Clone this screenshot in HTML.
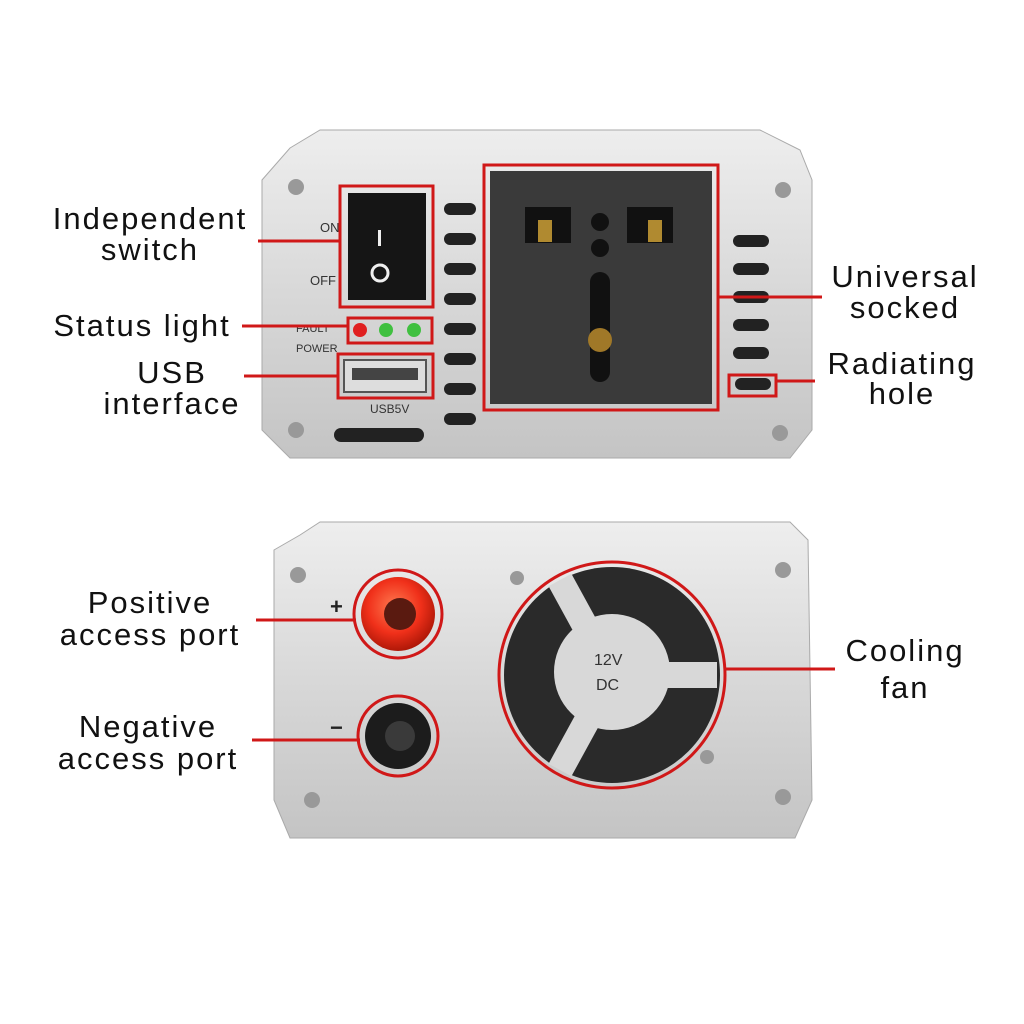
<!DOCTYPE html>
<html><head><meta charset="utf-8"><style>
html,body{margin:0;padding:0;background:#fff;}
svg{display:block;}
text{font-family:"Liberation Sans",sans-serif;}
</style></head><body>
<svg width="1024" height="1024" viewBox="0 0 1024 1024" xmlns="http://www.w3.org/2000/svg">
<defs>
<linearGradient id="sil" x1="0" y1="0" x2="0" y2="1">
<stop offset="0" stop-color="#eeeeee"/><stop offset="0.5" stop-color="#d8d8d8"/><stop offset="1" stop-color="#c4c4c4"/>
</linearGradient>
<radialGradient id="red" cx="0.45" cy="0.4" r="0.6">
<stop offset="0" stop-color="#ff7a50"/><stop offset="0.6" stop-color="#f0301a"/><stop offset="1" stop-color="#b01808"/>
</radialGradient>
</defs>
<path d="M290 148 L320 130 L760 130 L800 150 L812 180 L812 430 L790 458 L290 458 L262 430 L262 180 Z" fill="url(#sil)" stroke="#aaa"/>
<circle cx="296" cy="187" r="8" fill="#999"/><circle cx="783" cy="190" r="8" fill="#999"/>
<circle cx="296" cy="430" r="8" fill="#999"/><circle cx="780" cy="433" r="8" fill="#999"/>
<g fill="#222">
<rect x="444" y="203" width="32" height="12" rx="6"/><rect x="444" y="233" width="32" height="12" rx="6"/>
<rect x="444" y="263" width="32" height="12" rx="6"/><rect x="444" y="293" width="32" height="12" rx="6"/>
<rect x="444" y="323" width="32" height="12" rx="6"/><rect x="444" y="353" width="32" height="12" rx="6"/>
<rect x="444" y="383" width="32" height="12" rx="6"/><rect x="444" y="413" width="32" height="12" rx="6"/>
<rect x="733" y="235" width="36" height="12" rx="6"/><rect x="733" y="263" width="36" height="12" rx="6"/>
<rect x="733" y="291" width="36" height="12" rx="6"/><rect x="733" y="319" width="36" height="12" rx="6"/>
<rect x="733" y="347" width="36" height="12" rx="6"/><rect x="735" y="378" width="36" height="12" rx="6"/>
<rect x="334" y="428" width="90" height="14" rx="7"/>
</g>
<rect x="340" y="186" width="93" height="121" fill="none" stroke="#d01818" stroke-width="3"/>
<rect x="348" y="193" width="78" height="107" fill="#151515"/>
<rect x="378" y="230" width="3" height="16" fill="#eee"/>
<circle cx="380" cy="273" r="8" fill="none" stroke="#eee" stroke-width="3"/>
<text x="320" y="232" font-size="13" fill="#333">ON</text>
<text x="310" y="285" font-size="13" fill="#333">OFF</text>
<rect x="348" y="318" width="84" height="25" fill="none" stroke="#d01818" stroke-width="3"/>
<circle cx="360" cy="330" r="7" fill="#e02020"/><circle cx="386" cy="330" r="7" fill="#40c040"/><circle cx="414" cy="330" r="7" fill="#40c040"/>
<text x="296" y="332" font-size="11" fill="#333">FAULT</text>
<text x="296" y="352" font-size="11" fill="#333">POWER</text>
<rect x="338" y="354" width="95" height="44" fill="none" stroke="#d01818" stroke-width="3"/>
<rect x="344" y="360" width="82" height="32" fill="#ddd" stroke="#555" stroke-width="2"/>
<rect x="352" y="368" width="66" height="12" fill="#444"/>
<text x="370" y="413" font-size="12" fill="#333">USB5V</text>
<rect x="484" y="165" width="234" height="245" fill="none" stroke="#d01818" stroke-width="3"/>
<rect x="490" y="171" width="222" height="233" fill="#3a3a3a"/>
<rect x="525" y="207" width="46" height="36" fill="#111"/><rect x="627" y="207" width="46" height="36" fill="#111"/>
<rect x="538" y="220" width="14" height="22" fill="#b08a30"/><rect x="648" y="220" width="14" height="22" fill="#b08a30"/>
<circle cx="600" cy="222" r="9" fill="#111"/><circle cx="600" cy="248" r="9" fill="#111"/>
<rect x="590" y="272" width="20" height="110" rx="10" fill="#111"/>
<circle cx="600" cy="340" r="12" fill="#a07828"/>
<rect x="729" y="375" width="47" height="21" fill="none" stroke="#d01818" stroke-width="3"/>
<path d="M300 535 L320 522 L790 522 L808 540 L812 800 L795 838 L290 838 L274 800 L274 550 Z" fill="url(#sil)" stroke="#aaa"/>
<circle cx="298" cy="575" r="8" fill="#999"/><circle cx="783" cy="570" r="8" fill="#999"/>
<circle cx="312" cy="800" r="8" fill="#999"/><circle cx="783" cy="797" r="8" fill="#999"/>
<circle cx="517" cy="578" r="7" fill="#999"/><circle cx="707" cy="757" r="7" fill="#999"/>
<circle cx="398" cy="614" r="44" fill="none" stroke="#d01818" stroke-width="3"/>
<circle cx="398" cy="614" r="37" fill="url(#red)"/><circle cx="400" cy="614" r="16" fill="#5a1a10"/>
<circle cx="398" cy="736" r="40" fill="none" stroke="#d01818" stroke-width="3"/>
<circle cx="398" cy="736" r="33" fill="#1c1c1c"/><circle cx="400" cy="736" r="15" fill="#3a3a3a"/>
<text x="330" y="614" font-size="22" font-weight="bold" fill="#222">+</text>
<text x="330" y="735" font-size="22" font-weight="bold" fill="#222">−</text>
<circle cx="612" cy="675" r="113" fill="none" stroke="#d01818" stroke-width="3"/>
<circle cx="612" cy="675" r="108" fill="#2a2a2a"/>
<g stroke="#d8d8d8" stroke-width="26"><line x1="612" y1="675" x2="560" y2="580"/><line x1="612" y1="675" x2="717" y2="675"/><line x1="612" y1="675" x2="560" y2="770"/></g>
<circle cx="612" cy="672" r="58" fill="#d8d8d8"/>
<text x="594" y="665" font-size="16" font-family="Liberation Serif" fill="#333">12V</text>
<text x="596" y="690" font-size="16" font-family="Liberation Serif" fill="#333">DC</text>
<g stroke="#d01818" stroke-width="3">
<line x1="258" y1="241" x2="340" y2="241"/><line x1="242" y1="326" x2="348" y2="326"/>
<line x1="244" y1="376" x2="338" y2="376"/><line x1="718" y1="297" x2="822" y2="297"/>
<line x1="776" y1="381" x2="815" y2="381"/><line x1="256" y1="620" x2="356" y2="620"/>
<line x1="252" y1="740" x2="360" y2="740"/><line x1="724" y1="669" x2="835" y2="669"/>
</g>
<g font-size="31" fill="#111" text-anchor="middle" letter-spacing="2">
<text x="150" y="229">Independent</text><text x="150" y="260">switch</text>
<text x="142" y="336">Status  light</text>
<text x="172" y="383">USB</text><text x="172" y="414">interface</text>
<text x="905" y="287">Universal</text><text x="905" y="318">socked</text>
<text x="902" y="374">Radiating</text><text x="902" y="404">hole</text>
<text x="150" y="613">Positive</text><text x="150" y="645">access  port</text>
<text x="148" y="737">Negative</text><text x="148" y="769">access  port</text>
<text x="905" y="661">Cooling</text><text x="905" y="698">fan</text>
</g>
</svg>
</body></html>
